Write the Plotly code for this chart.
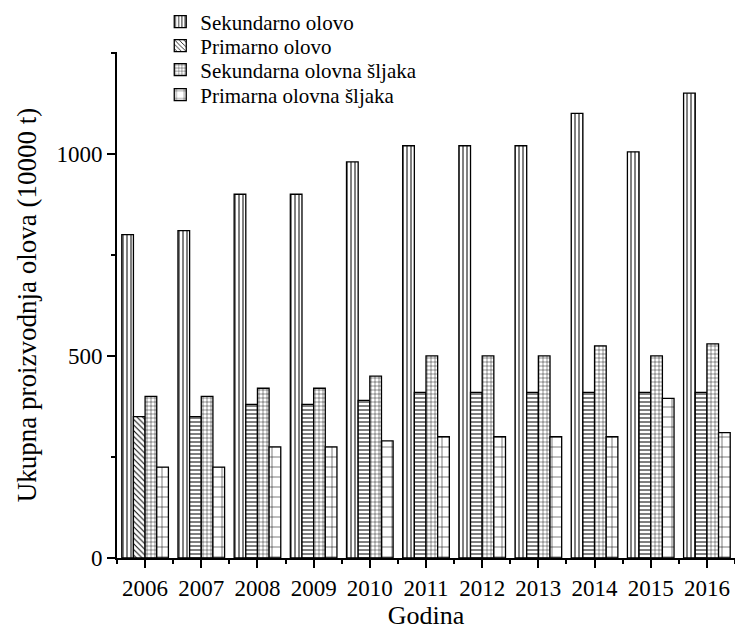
import plotly.graph_objects as go

years = [2006, 2007, 2008, 2009, 2010, 2011, 2012, 2013, 2014, 2015, 2016]
sekundarno_olovo = [800, 810, 900, 900, 980, 1020, 1020, 1020, 1100, 1005, 1150]
primarno_olovo = [350, 350, 380, 380, 390, 410, 410, 410, 410, 410, 410]
sekundarna_sljaka = [400, 400, 420, 420, 450, 500, 500, 500, 525, 500, 530]
primarna_sljaka = [225, 225, 275, 275, 290, 300, 300, 300, 300, 395, 310]

names = ["Sekundarno olovo", "Primarno olovo", "Sekundarna olovna šljaka", "Primarna olovna šljaka"]
series = [sekundarno_olovo, primarno_olovo, sekundarna_sljaka, primarna_sljaka]
patterns = [
    dict(shape="|", size=4, solidity=0.25),
    dict(shape=["\\"] + ["-"] * (len(years) - 1), size=4, solidity=0.25),
    dict(shape="+", size=4, solidity=0.2),
    dict(shape="+", size=10, solidity=0.1),
]

FONT = "Liberation Serif, Times New Roman, serif"
W, H = 735, 638
ML, MR, MT, MB = 117, 0, 52, 80
legend_ids = ["legend", "legend2", "legend3", "legend4"]
legend_centers_px = [22, 46, 70, 95]

fig = go.Figure()
for name, vals, pat, lid in zip(names, series, patterns, legend_ids):
    fig.add_trace(go.Bar(
        x=years, y=vals, name=name, legend=lid,
        marker=dict(color="white",
                    line=dict(color="black", width=1.3),
                    pattern=dict(fgcolor="black", bgcolor="white", fgopacity=1, **pat)),
    ))

plot_h = H - MT - MB
legend_layouts = {}
for lid, cy in zip(legend_ids, legend_centers_px):
    legend_layouts[lid] = dict(
        x=0.07, y=1 + (MT - cy) / plot_h, xanchor="left", yanchor="middle",
        bgcolor="rgba(0,0,0,0)", font=dict(size=21, family=FONT),
        itemwidth=30,
    )

fig.update_layout(
    width=W, height=H,
    margin=dict(l=ML, r=MR, t=MT, b=MB),
    paper_bgcolor="white", plot_bgcolor="white",
    barmode="group", bargap=0.17, bargroupgap=0,
    font=dict(family=FONT, size=23, color="black"),
    showlegend=True,
    **legend_layouts,
    xaxis=dict(
        range=[2005.5, 2016.5], tickmode="array", tickvals=years,
        ticktext=[str(y) for y in years],
        showline=True, linecolor="black", linewidth=2,
        ticks="outside", ticklen=8, tickwidth=2, tickcolor="black",
        showgrid=False, zeroline=False,
        minor=dict(tickmode="linear", tick0=2005.5, dtick=1, ticks="outside",
                   ticklen=4, tickwidth=2, tickcolor="black", showgrid=False),
        title=dict(text="Godina", font=dict(size=26, family=FONT), standoff=0),
        tickfont=dict(size=23, family=FONT),
    ),
    yaxis=dict(
        range=[0, 1252], tickvals=[0, 500, 1000],
        showline=True, linecolor="black", linewidth=2,
        ticks="outside", ticklen=8, tickwidth=2, tickcolor="black",
        showgrid=False, zeroline=False,
        minor=dict(tickmode="linear", tick0=0, dtick=250, ticks="outside",
                   ticklen=4, tickwidth=2, tickcolor="black", showgrid=False),
        title=dict(text="Ukupna proizvodnja olova (10000 t)", font=dict(size=27, family=FONT), standoff=12),
        tickfont=dict(size=23, family=FONT),
    ),
)

fig.write_html("out.html", config={"displayModeBar": False},
               post_script="document.body.style.margin='0';document.body.style.overflow='hidden';")
